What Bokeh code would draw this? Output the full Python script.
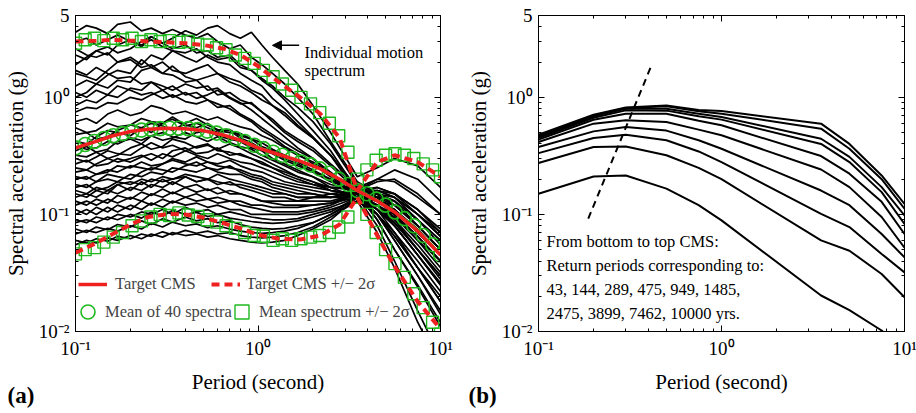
from bokeh.plotting import figure
from bokeh.models import (LogAxis, FixedTicker, CustomJSTickFormatter, Legend, LegendItem,
                          Label, Arrow, NormalHead, Range1d, Title)
from bokeh.layouts import row
from bokeh.embed import file_html
from bokeh.resources import INLINE

FONT = "Liberation Serif"
RED = "#ee2020"
GREEN = "#1fb81f"

# ---------------- data: panel (a) ----------------
PER_T = [0.1, 0.13, 0.16, 0.2, 0.25, 0.32, 0.4, 0.5, 0.65, 0.8,
         1.0, 1.3, 1.7, 2.2, 2.8, 3.5, 4.5, 5.6, 7.5, 10.0]
TARGET_CMS = [0.37, 0.42, 0.47, 0.51, 0.535, 0.545, 0.54, 0.52, 0.475, 0.43,
              0.37, 0.325, 0.285, 0.245, 0.2, 0.16, 0.13, 0.105, 0.072, 0.045]
TARGET_UP = [3.0, 3.05, 3.1, 3.05, 3.0, 2.95, 2.9, 2.8, 2.6, 2.3,
             1.85, 1.35, 1.0, 0.72, 0.45, 0.16, 0.28, 0.32, 0.28, 0.21]
TARGET_LO = [0.047, 0.057, 0.068, 0.082, 0.095, 0.101, 0.1, 0.094, 0.084, 0.076,
             0.067, 0.062, 0.061, 0.066, 0.082, 0.14, 0.066, 0.036, 0.018, 0.0105]

PER_G = [0.1, 0.113, 0.127, 0.143, 0.161, 0.181, 0.204, 0.23, 0.259, 0.291,
         0.328, 0.369, 0.415, 0.468, 0.527, 0.593, 0.668, 0.752, 0.846, 0.953,
         1.07, 1.21, 1.36, 1.53, 1.72, 1.94, 2.18, 2.46, 2.77, 3.11,
         3.5, 3.95, 4.44, 5.0, 5.63, 6.34, 7.14, 8.04, 9.05, 10.0]
MEAN_40 = [0.37, 0.395, 0.42, 0.445, 0.47, 0.49, 0.51, 0.525, 0.535, 0.54,
           0.545, 0.545, 0.54, 0.53, 0.515, 0.495, 0.47, 0.445, 0.42, 0.39,
           0.365, 0.34, 0.32, 0.3, 0.28, 0.265, 0.245, 0.225, 0.2, 0.18,
           0.16, 0.15, 0.135, 0.12, 0.105, 0.092, 0.08, 0.066, 0.055, 0.045]
MEAN_UP = [2.9, 3.1, 3.2, 3.05, 3.2, 3.1, 3.2, 3.0, 3.1, 3.0,
           3.05, 2.95, 3.0, 2.85, 2.8, 2.65, 2.55, 2.3, 2.15, 1.95,
           1.7, 1.5, 1.3, 1.15, 1.0, 0.88, 0.74, 0.6, 0.47, 0.34,
           0.2, 0.24, 0.29, 0.32, 0.33, 0.32, 0.3, 0.27, 0.24, 0.21]
MEAN_LO = [0.046, 0.05, 0.052, 0.058, 0.064, 0.07, 0.08, 0.088, 0.095, 0.1,
           0.098, 0.103, 0.099, 0.096, 0.09, 0.086, 0.08, 0.076, 0.07, 0.066,
           0.065, 0.06, 0.062, 0.06, 0.062, 0.064, 0.066, 0.07, 0.078, 0.095,
           0.14, 0.1, 0.07, 0.05, 0.038, 0.029, 0.021, 0.016, 0.012, 0.0095]

PER_S = [0.1, 0.115, 0.13, 0.15, 0.17, 0.2, 0.23, 0.26, 0.3, 0.34,
         0.4, 0.46, 0.53, 0.6, 0.7, 0.8, 0.92, 1.05, 1.2, 1.4,
         1.65, 2.0, 2.5, 3.5, 4.5, 5.6, 7.5, 10.0]
SPECTRA = [
    [3.6, 4.1, 3.9, 3.5, 4.2, 4.4, 3.7, 3.9, 3.5, 3.8, 3.4, 3.2, 3.5, 3.0, 2.6, 2.8, 2.2, 1.9, 1.6, 1.3, 1.0, 0.72, 0.42, 0.19, 0.15, 0.09, 0.05, 0.03],
    [2.3, 2.1, 2.5, 2.7, 2.4, 2.6, 3.0, 3.3, 2.9, 3.2, 3.7, 3.4, 3.9, 4.1, 3.5, 3.2, 3.6, 2.8, 2.2, 1.7, 1.3, 0.85, 0.5, 0.21, 0.25, 0.3, 0.26, 0.17],
    [3.0, 3.2, 2.8, 3.1, 3.4, 3.0, 2.8, 3.1, 2.7, 2.5, 2.4, 2.6, 2.2, 2.0, 1.9, 1.6, 1.4, 1.25, 0.98, 0.8, 0.62, 0.46, 0.32, 0.17, 0.11, 0.07, 0.035, 0.018],
    [1.9, 2.2, 2.5, 2.3, 2.8, 3.1, 2.7, 3.3, 2.9, 2.6, 2.8, 2.4, 2.5, 2.2, 2.3, 1.9, 1.7, 1.4, 1.2, 0.95, 0.72, 0.52, 0.35, 0.16, 0.2, 0.24, 0.2, 0.13],
    [1.6, 1.5, 1.4, 1.7, 2.0, 2.2, 1.9, 2.3, 2.1, 2.5, 2.2, 2.0, 2.3, 2.1, 2.2, 1.8, 1.7, 1.45, 1.25, 1.0, 0.82, 0.62, 0.4, 0.18, 0.14, 0.1, 0.06, 0.04],
    [1.25, 1.4, 1.3, 1.55, 1.7, 1.6, 2.1, 1.8, 2.0, 1.7, 1.6, 1.75, 1.9, 1.6, 1.45, 1.35, 1.15, 1.05, 0.85, 0.74, 0.58, 0.45, 0.32, 0.15, 0.12, 0.08, 0.045, 0.025],
    [1.0, 1.1, 1.3, 1.2, 1.4, 1.35, 1.7, 1.8, 1.6, 1.85, 1.5, 1.4, 1.5, 1.6, 1.35, 1.25, 1.1, 0.95, 0.85, 0.7, 0.56, 0.45, 0.32, 0.16, 0.19, 0.2, 0.15, 0.1],
    [1.7, 1.55, 1.8, 1.6, 1.45, 1.5, 1.3, 1.35, 1.15, 1.25, 1.05, 1.1, 0.95, 0.88, 0.8, 0.7, 0.62, 0.52, 0.46, 0.38, 0.33, 0.27, 0.21, 0.14, 0.1, 0.06, 0.03, 0.015],
    [0.85, 0.95, 0.9, 1.05, 1.0, 1.2, 1.15, 1.35, 1.25, 1.15, 1.3, 1.2, 1.25, 1.05, 1.1, 0.95, 0.88, 0.75, 0.65, 0.52, 0.44, 0.37, 0.27, 0.17, 0.15, 0.13, 0.08, 0.05],
    [1.1, 1.0, 1.15, 1.05, 1.25, 1.15, 1.05, 1.1, 0.98, 1.05, 0.92, 0.88, 0.95, 0.82, 0.85, 0.72, 0.64, 0.55, 0.48, 0.41, 0.35, 0.3, 0.23, 0.15, 0.13, 0.1, 0.065, 0.04],
    [0.75, 0.82, 0.8, 0.9, 0.88, 1.0, 0.95, 1.05, 1.15, 1.0, 1.1, 0.98, 1.05, 1.15, 0.98, 0.88, 0.9, 0.75, 0.62, 0.5, 0.42, 0.35, 0.26, 0.16, 0.16, 0.14, 0.09, 0.06],
    [2.6, 2.3, 2.2, 2.4, 2.0, 2.1, 1.8, 1.9, 1.6, 1.55, 1.35, 1.4, 1.15, 1.2, 1.0, 0.9, 0.78, 0.66, 0.56, 0.46, 0.37, 0.3, 0.22, 0.14, 0.11, 0.085, 0.05, 0.028],
    [0.62, 0.66, 0.6, 0.72, 0.78, 0.7, 0.74, 0.85, 0.8, 0.72, 0.76, 0.7, 0.64, 0.68, 0.6, 0.56, 0.53, 0.47, 0.43, 0.37, 0.32, 0.28, 0.22, 0.17, 0.2, 0.19, 0.14, 0.1],
    [0.55, 0.5, 0.52, 0.6, 0.56, 0.58, 0.66, 0.62, 0.6, 0.68, 0.58, 0.55, 0.6, 0.52, 0.5, 0.49, 0.44, 0.41, 0.36, 0.32, 0.28, 0.24, 0.2, 0.15, 0.1, 0.065, 0.035, 0.018],
    [0.48, 0.5, 0.44, 0.46, 0.52, 0.58, 0.55, 0.5, 0.6, 0.65, 0.57, 0.6, 0.55, 0.5, 0.53, 0.47, 0.44, 0.38, 0.35, 0.3, 0.27, 0.23, 0.19, 0.16, 0.14, 0.11, 0.07, 0.045],
    [0.42, 0.4, 0.46, 0.52, 0.5, 0.47, 0.55, 0.6, 0.57, 0.52, 0.6, 0.66, 0.58, 0.53, 0.52, 0.45, 0.41, 0.36, 0.33, 0.29, 0.26, 0.23, 0.2, 0.15, 0.17, 0.15, 0.1, 0.065],
    [0.38, 0.36, 0.37, 0.42, 0.4, 0.45, 0.43, 0.47, 0.5, 0.46, 0.44, 0.5, 0.52, 0.47, 0.44, 0.42, 0.37, 0.35, 0.3, 0.27, 0.24, 0.21, 0.17, 0.14, 0.12, 0.09, 0.055, 0.032],
    [0.35, 0.38, 0.34, 0.36, 0.42, 0.44, 0.4, 0.47, 0.43, 0.45, 0.5, 0.46, 0.42, 0.46, 0.41, 0.38, 0.36, 0.32, 0.29, 0.26, 0.23, 0.21, 0.18, 0.16, 0.13, 0.12, 0.08, 0.05],
    [0.32, 0.31, 0.34, 0.3, 0.32, 0.37, 0.4, 0.36, 0.38, 0.44, 0.41, 0.37, 0.39, 0.36, 0.4, 0.37, 0.33, 0.3, 0.27, 0.24, 0.21, 0.19, 0.16, 0.15, 0.09, 0.05, 0.025, 0.012],
    [0.3, 0.28, 0.31, 0.35, 0.33, 0.32, 0.37, 0.41, 0.37, 0.39, 0.35, 0.38, 0.4, 0.35, 0.34, 0.32, 0.3, 0.28, 0.25, 0.23, 0.21, 0.19, 0.17, 0.17, 0.15, 0.13, 0.09, 0.06],
    [0.27, 0.29, 0.26, 0.27, 0.3, 0.28, 0.31, 0.33, 0.3, 0.35, 0.37, 0.33, 0.34, 0.37, 0.32, 0.33, 0.3, 0.27, 0.25, 0.22, 0.2, 0.18, 0.16, 0.14, 0.11, 0.08, 0.045, 0.025],
    [0.25, 0.24, 0.27, 0.3, 0.28, 0.3, 0.32, 0.29, 0.33, 0.31, 0.35, 0.32, 0.3, 0.33, 0.3, 0.28, 0.27, 0.25, 0.23, 0.21, 0.19, 0.18, 0.17, 0.16, 0.16, 0.15, 0.11, 0.075],
    [0.23, 0.24, 0.22, 0.23, 0.26, 0.25, 0.28, 0.26, 0.27, 0.3, 0.28, 0.31, 0.28, 0.27, 0.29, 0.26, 0.24, 0.23, 0.21, 0.19, 0.18, 0.17, 0.16, 0.15, 0.12, 0.095, 0.06, 0.035],
    [0.21, 0.2, 0.22, 0.24, 0.23, 0.26, 0.25, 0.24, 0.27, 0.29, 0.27, 0.26, 0.28, 0.26, 0.25, 0.24, 0.22, 0.21, 0.19, 0.18, 0.17, 0.16, 0.15, 0.14, 0.08, 0.04, 0.015, 0.006],
    [0.2, 0.21, 0.19, 0.22, 0.21, 0.2, 0.23, 0.25, 0.24, 0.23, 0.26, 0.28, 0.25, 0.24, 0.26, 0.23, 0.21, 0.2, 0.18, 0.17, 0.16, 0.15, 0.14, 0.15, 0.13, 0.11, 0.075, 0.045],
    [0.18, 0.17, 0.19, 0.2, 0.19, 0.22, 0.21, 0.23, 0.22, 0.25, 0.24, 0.23, 0.25, 0.23, 0.22, 0.22, 0.2, 0.19, 0.17, 0.16, 0.15, 0.15, 0.14, 0.14, 0.14, 0.13, 0.09, 0.055],
    [0.17, 0.18, 0.16, 0.17, 0.19, 0.18, 0.2, 0.19, 0.21, 0.2, 0.22, 0.21, 0.2, 0.22, 0.2, 0.19, 0.18, 0.17, 0.16, 0.15, 0.14, 0.14, 0.14, 0.15, 0.1, 0.07, 0.04, 0.022],
    [0.16, 0.15, 0.17, 0.16, 0.18, 0.19, 0.18, 0.2, 0.19, 0.2, 0.21, 0.19, 0.2, 0.19, 0.18, 0.18, 0.17, 0.16, 0.15, 0.15, 0.14, 0.14, 0.15, 0.16, 0.15, 0.12, 0.08, 0.05],
    [0.15, 0.14, 0.16, 0.15, 0.18, 0.16, 0.19, 0.17, 0.2, 0.18, 0.21, 0.19, 0.2, 0.18, 0.19, 0.17, 0.16, 0.15, 0.14, 0.14, 0.13, 0.13, 0.13, 0.15, 0.12, 0.085, 0.05, 0.03],
    [0.14, 0.15, 0.14, 0.16, 0.15, 0.17, 0.16, 0.18, 0.17, 0.19, 0.17, 0.18, 0.16, 0.17, 0.15, 0.15, 0.14, 0.13, 0.13, 0.13, 0.13, 0.14, 0.14, 0.16, 0.17, 0.15, 0.11, 0.07],
    [0.13, 0.12, 0.135, 0.125, 0.145, 0.135, 0.155, 0.145, 0.165, 0.15, 0.17, 0.155, 0.165, 0.15, 0.16, 0.15, 0.14, 0.13, 0.125, 0.12, 0.12, 0.12, 0.125, 0.15, 0.09, 0.05, 0.024, 0.011],
    [0.12, 0.13, 0.12, 0.135, 0.125, 0.14, 0.13, 0.15, 0.14, 0.155, 0.14, 0.15, 0.135, 0.14, 0.13, 0.13, 0.12, 0.12, 0.115, 0.115, 0.115, 0.12, 0.125, 0.14, 0.13, 0.11, 0.07, 0.045],
    [0.11, 0.1, 0.115, 0.105, 0.12, 0.11, 0.13, 0.12, 0.135, 0.125, 0.14, 0.13, 0.135, 0.125, 0.13, 0.12, 0.115, 0.11, 0.105, 0.105, 0.105, 0.11, 0.12, 0.15, 0.11, 0.08, 0.045, 0.026],
    [0.1, 0.11, 0.1, 0.115, 0.105, 0.12, 0.11, 0.125, 0.115, 0.13, 0.12, 0.125, 0.115, 0.12, 0.11, 0.11, 0.1, 0.1, 0.1, 0.1, 0.1, 0.105, 0.115, 0.14, 0.15, 0.14, 0.1, 0.065],
    [0.09, 0.085, 0.095, 0.09, 0.1, 0.095, 0.105, 0.1, 0.11, 0.1, 0.115, 0.105, 0.11, 0.1, 0.105, 0.1, 0.095, 0.092, 0.09, 0.09, 0.092, 0.1, 0.11, 0.13, 0.1, 0.06, 0.03, 0.014],
    [0.085, 0.09, 0.085, 0.095, 0.09, 0.1, 0.093, 0.105, 0.097, 0.108, 0.1, 0.104, 0.096, 0.1, 0.093, 0.09, 0.087, 0.085, 0.084, 0.085, 0.088, 0.095, 0.105, 0.14, 0.12, 0.1, 0.065, 0.04],
    [0.075, 0.07, 0.078, 0.074, 0.082, 0.078, 0.088, 0.082, 0.092, 0.086, 0.095, 0.088, 0.092, 0.085, 0.088, 0.082, 0.078, 0.076, 0.075, 0.076, 0.08, 0.085, 0.1, 0.13, 0.07, 0.035, 0.012, 0.005],
    [0.068, 0.073, 0.07, 0.076, 0.072, 0.08, 0.075, 0.084, 0.078, 0.086, 0.08, 0.083, 0.077, 0.08, 0.075, 0.072, 0.07, 0.069, 0.07, 0.072, 0.076, 0.085, 0.1, 0.14, 0.14, 0.12, 0.08, 0.05],
    [0.06, 0.057, 0.062, 0.059, 0.065, 0.062, 0.068, 0.065, 0.071, 0.067, 0.073, 0.069, 0.072, 0.068, 0.07, 0.066, 0.064, 0.063, 0.064, 0.066, 0.07, 0.078, 0.095, 0.13, 0.1, 0.065, 0.035, 0.02],
    [0.055, 0.06, 0.057, 0.063, 0.06, 0.066, 0.062, 0.068, 0.064, 0.07, 0.066, 0.068, 0.064, 0.066, 0.062, 0.06, 0.058, 0.057, 0.058, 0.06, 0.066, 0.075, 0.09, 0.14, 0.16, 0.14, 0.1, 0.07],
]

# ---------------- data: panel (b) ----------------
PER_B = [0.1, 0.2, 0.3, 0.5, 0.75, 1.0, 3.5, 5.0, 7.5, 10.0]
CMS_B = [  # from bottom (43 yrs) to top (10000 yrs)
    [0.150, 0.211, 0.215, 0.166, 0.120, 0.089, 0.0203, 0.0152, 0.0102, 0.0068],
    [0.275, 0.376, 0.381, 0.320, 0.250, 0.200, 0.060, 0.049, 0.031, 0.0196],
    [0.334, 0.449, 0.480, 0.430, 0.345, 0.280, 0.101, 0.078, 0.046, 0.032],
    [0.376, 0.512, 0.557, 0.520, 0.430, 0.364, 0.160, 0.120, 0.068, 0.043],
    [0.415, 0.596, 0.636, 0.615, 0.530, 0.474, 0.242, 0.171, 0.095, 0.052],
    [0.435, 0.644, 0.725, 0.725, 0.630, 0.577, 0.315, 0.223, 0.128, 0.068],
    [0.450, 0.670, 0.774, 0.770, 0.690, 0.645, 0.400, 0.280, 0.155, 0.083],
    [0.460, 0.690, 0.800, 0.800, 0.725, 0.680, 0.443, 0.310, 0.171, 0.098],
    [0.470, 0.700, 0.810, 0.840, 0.760, 0.725, 0.540, 0.364, 0.200, 0.112],
    [0.480, 0.710, 0.820, 0.850, 0.780, 0.764, 0.596, 0.400, 0.215, 0.123],
]
DASH_T = [0.187, 0.414]
DASH_SA = [0.092, 1.87]

Y_TICKS = [0.01, 0.1, 1, 5]
Y_MINOR = [0.02, 0.03, 0.04, 0.05, 0.06, 0.07, 0.08, 0.09,
           0.2, 0.3, 0.4, 0.5, 0.6, 0.7, 0.8, 0.9, 2, 3, 4]
X_TICKS = [0.1, 1, 10]
X_MINOR = [0.2, 0.3, 0.4, 0.5, 0.6, 0.7, 0.8, 0.9, 2, 3, 4, 5, 6, 7, 8, 9]
TEXT_B = ["From bottom to top CMS:",
          "Return periods corresponding to:",
          "43, 144, 289, 475, 949, 1485,",
          "2475, 3899, 7462, 10000 yrs."]

FMT_JS = """
const m = {"0.01": "10\u207b\u00b2", "0.1": "10\u207b\u00b9", "1": "10\u2070",
           "10": "10\u00b9", "5": "5"};
const k = String(tick);
return (k in m) ? m[k] : "";
"""


def style_axis(ax, ticks, minor, show):
    ax.ticker = FixedTicker(ticks=ticks, minor_ticks=minor)
    ax.major_tick_in = 6
    ax.major_tick_out = 0
    ax.minor_tick_in = 3
    ax.minor_tick_out = 0
    ax.axis_line_color = "black"
    ax.major_tick_line_color = "black"
    ax.minor_tick_line_color = "black"
    ax.major_label_text_font = FONT
    ax.major_label_text_font_size = "19px"
    ax.major_label_text_color = "black"
    ax.axis_label_text_font = FONT
    ax.axis_label_text_font_size = "21px"
    ax.axis_label_text_font_style = "normal"
    ax.axis_label_text_color = "black"
    if show:
        ax.formatter = CustomJSTickFormatter(code=FMT_JS)
    else:
        ax.formatter = CustomJSTickFormatter(code="return '';")
        ax.major_label_text_font_size = "0px"


def make_fig(fw, left, right, tag, tag_offset):
    p = figure(x_axis_type="log", y_axis_type="log",
               x_range=Range1d(0.1, 10), y_range=Range1d(0.01, 5),
               frame_width=fw, frame_height=316,
               min_border_left=left, min_border_right=right,
               min_border_top=15, min_border_bottom=82,
               output_backend="svg", toolbar_location=None)
    p.grid.visible = False
    p.outline_line_color = "black"
    p.outline_line_width = 1
    p.background_fill_color = "white"
    p.border_fill_color = "white"
    p.xaxis.axis_label = "Period (second)"
    p.yaxis.axis_label = "Spectral acceleration (g)"
    style_axis(p.xaxis[0], X_TICKS, X_MINOR, True)
    style_axis(p.yaxis[0], Y_TICKS, Y_MINOR, True)
    p.xaxis[0].axis_label_standoff = 8
    p.yaxis[0].axis_label_standoff = 8
    p.xaxis[0].major_label_standoff = 6
    p.yaxis[0].major_label_standoff = 6
    top = LogAxis()
    right_ax = LogAxis()
    style_axis(top, X_TICKS, X_MINOR, False)
    style_axis(right_ax, Y_TICKS, Y_MINOR, False)
    p.add_layout(top, "above")
    p.add_layout(right_ax, "right")
    p.add_layout(Title(text=tag, align="left", offset=tag_offset, standoff=-28,
                       vertical_align="top", text_font=FONT, text_font_size="23px",
                       text_font_style="bold", text_color="black"), "below")
    return p


def one_legend(label, renderer, x, y, gw, gh, standoff):
    return Legend(items=[LegendItem(label=label, renderers=[renderer])],
                  location=(x, y), margin=0, padding=0,
                  glyph_width=gw, glyph_height=gh, label_standoff=standoff,
                  label_text_font=FONT, label_text_font_size="16.5px",
                  background_fill_alpha=0, border_line_alpha=0)


# ---------------- panel (a) ----------------
pa = make_fig(365, 74, 21, "(a)", -68)
for s in SPECTRA:
    pa.line(PER_S, s, line_color="black", line_width=1.7)

r_circ = pa.scatter(PER_G, MEAN_40, marker="circle", size=14, fill_color=None,
                    line_color=GREEN, line_width=1.6)
r_sq = pa.scatter(PER_G + PER_G, MEAN_UP + MEAN_LO, marker="square", size=12,
                  fill_color=None, line_color=GREEN, line_width=1.4)
pa.line(PER_G, MEAN_40, line_color=GREEN, line_width=1.5)
r_tgt = pa.line(PER_T, TARGET_CMS, line_color=RED, line_width=3.5)
r_up = pa.line(PER_T, TARGET_UP, line_color=RED, line_width=4, line_dash="8 5")
pa.line(PER_T, TARGET_LO, line_color=RED, line_width=4, line_dash="8 5")

pa.add_layout(one_legend("Target CMS", r_tgt, 3, 37, 29, 20, 8))
pa.add_layout(one_legend("Target CMS +/\u2212 2\u03c3", r_up, 136, 37, 29, 20, 6))
pa.add_layout(one_legend("Mean of 40 spectra", r_circ, -5, 2, 35, 35, -4))
pa.add_layout(one_legend("Mean spectrum +/\u2212 2\u03c3", r_sq, 149, 2, 35, 35, -9))

pa.add_layout(Arrow(end=NormalHead(size=9, fill_color="black", line_color="black"),
                    x_start=1.68, y_start=2.78, x_end=1.2, y_end=2.78,
                    line_color="black", line_width=1.5))
for txt, yy in [("Individual motion", 279), ("spectrum", 261)]:
    pa.add_layout(Label(x=229, y=yy, x_units="screen", y_units="screen", text=txt,
                        text_font=FONT, text_font_size="16.5px", text_color="black",
                        text_baseline="alphabetic"))

# ---------------- panel (b) ----------------
pb = make_fig(366, 77, 13, "(b)", -70)
for c in CMS_B:
    pb.line(PER_B, c, line_color="black", line_width=2)
pb.line(DASH_T, DASH_SA, line_color="black", line_width=2, line_dash="7 5")
for i, txt in enumerate(TEXT_B):
    pb.add_layout(Label(x=8, y=90 - 24 * i, x_units="screen", y_units="screen", text=txt,
                        text_font=FONT, text_font_size="16.5px", text_color="black",
                        text_baseline="alphabetic"))

layout = row(pa, pb)
open("out.html", "w").write(file_html(layout, INLINE))
